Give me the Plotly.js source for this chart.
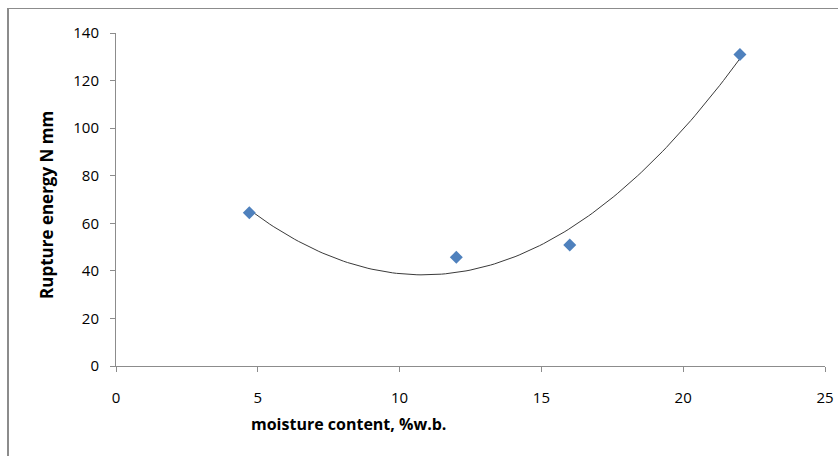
<!DOCTYPE html>
<html>
<head>
<meta charset="utf-8">
<script src="https://cdn.plot.ly/plotly-3.0.1.min.js"></script>
<style>
  html, body { margin: 0; padding: 0; background: #fff; }
  #wrap { position: relative; width: 838px; height: 456px; overflow: hidden; }
  #frame { position: absolute; left: 7px; top: 8px; width: 840px; height: 460px;
           border-left: 2px solid #8c8c8c; border-top: 1px solid #8c8c8c; }
  #chart { position: absolute; left: 0; top: 0; width: 838px; height: 456px; }
</style>
</head>
<body>
<div id="wrap">
  <div id="frame"></div>
  <div id="chart"></div>
</div>
<script>
// Data
const moisture = [4.7, 12, 16, 22];
const ruptureEnergy = [64.4, 45.7, 50.9, 131.0];
const xTicks = [0, 5, 10, 15, 20, 25];
const yTicks = [0, 20, 40, 60, 80, 100, 120, 140];

// Second-order polynomial trendline (least squares) from the data, as in the original
function polyFit2(xs, ys) {
  let S = [0,0,0,0,0], T = [0,0,0];
  for (let i = 0; i < xs.length; i++) {
    let p = 1;
    for (let k = 0; k < 5; k++) { S[k] += p; if (k < 3) T[k] += p * ys[i]; p *= xs[i]; }
  }
  const A = [[S[0],S[1],S[2],T[0]],[S[1],S[2],S[3],T[1]],[S[2],S[3],S[4],T[2]]];
  for (let c = 0; c < 3; c++) {
    for (let r = c + 1; r < 3; r++) {
      const f = A[r][c] / A[c][c];
      for (let k = c; k < 4; k++) A[r][k] -= f * A[c][k];
    }
  }
  const coef = [0,0,0];
  for (let r = 2; r >= 0; r--) {
    let s = A[r][3];
    for (let k = r + 1; k < 3; k++) s -= A[r][k] * coef[k];
    coef[r] = s / A[r][r];
  }
  return coef;
}
const coef = polyFit2(moisture, ruptureEnergy);
const xMin = Math.min(...moisture), xMax = Math.max(...moisture);
const trendX = [], trendY = [];
for (let i = 0; i <= 120; i++) {
  const x = xMin + (xMax - xMin) * i / 120;
  trendX.push(x);
  trendY.push(coef[0] + coef[1] * x + coef[2] * x * x);
}

const traces = [
  { x: trendX, y: trendY, mode: 'lines', type: 'scatter',
    line: { color: '#3a3a3a', width: 1 }, hoverinfo: 'skip' },
  { x: moisture, y: ruptureEnergy, mode: 'markers', type: 'scatter',
    marker: { symbol: 'diamond', size: 10, color: '#4F81BD' } }
];

const tickFont = { family: 'Open Sans, sans-serif', size: 15, color: '#000' };
const titleFont = { family: 'Open Sans, sans-serif', size: 16, color: '#000' };
const yTitleFont = { family: 'Open Sans, sans-serif', size: 17, color: '#000' };
const W = 838, H = 456, L = 116, R = 13, T = 33, B = 90;
const pw = W - L - R, ph = H - T - B;
const layout = {
  width: W, height: H,
  margin: { l: L, r: R, t: T, b: B },
  paper_bgcolor: 'rgba(0,0,0,0)', plot_bgcolor: 'rgba(0,0,0,0)',
  showlegend: false,
  xaxis: {
    range: [0, 25], tickvals: xTicks, ticktext: xTicks.map(String),
    showgrid: false, zeroline: false, showline: true, linecolor: '#8c8c8c', linewidth: 1,
    ticks: 'outside', ticklen: 5, tickcolor: '#8c8c8c', tickfont: tickFont,
    ticklabelstandoff: 13, fixedrange: true
  },
  yaxis: {
    range: [0, 140], tickvals: yTicks, ticktext: yTicks.map(String),
    showgrid: false, zeroline: false, showline: true, linecolor: '#8c8c8c', linewidth: 1,
    ticks: 'outside', ticklen: 5, tickcolor: '#8c8c8c', tickfont: tickFont,
    ticklabelstandoff: 8, fixedrange: true
  },
  annotations: [
    { text: '<b>moisture content, %w.b.</b>', xref: 'paper', yref: 'paper',
      x: (348 - L) / pw, y: -(424 - (H - B)) / ph,
      xanchor: 'center', yanchor: 'middle', showarrow: false, font: titleFont },
    { text: '<b>Rupture energy N mm</b>', xref: 'paper', yref: 'paper',
      x: -(L - 46) / pw, y: ((H - B) - 205) / ph, textangle: -90,
      xanchor: 'center', yanchor: 'middle', showarrow: false, font: yTitleFont }
  ]
};

Plotly.newPlot('chart', traces, layout, { displayModeBar: false, staticPlot: true });
</script>
</body>
</html>
